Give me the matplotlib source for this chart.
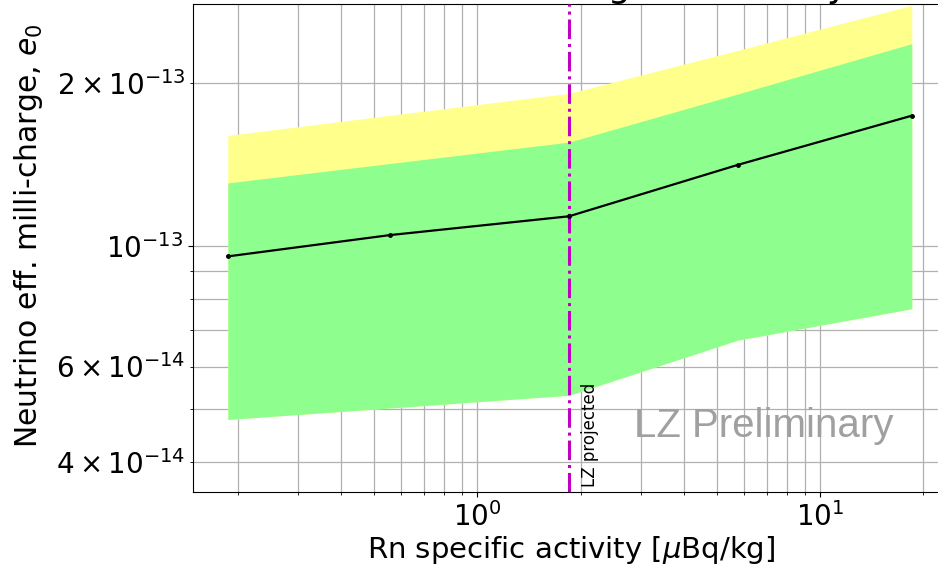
import numpy as np
import matplotlib
matplotlib.use("Agg")
import matplotlib.pyplot as plt

# Rn specific activity scan points [uBq/kg]
activity = [0.187, 0.557, 1.85, 5.74, 18.5]
# median expected limit and 1/2 sigma bands on effective milli-charge
median = [9.58e-14, 1.049e-13, 1.136e-13, 1.413e-13, 1.742e-13]
sigma1_lo = [4.79e-14, 5.03e-14, 5.31e-14, 6.71e-14, 7.67e-14]
sigma1_hi = [1.309e-13, 1.422e-13, 1.557e-13, 1.910e-13, 2.366e-13]
sigma2_hi = [1.602e-13, 1.745e-13, 1.915e-13, 2.299e-13, 2.784e-13]
lz_projected = 1.85

W, H = 938, 565
fig = plt.figure(figsize=(W / 100, H / 100), dpi=100)
ax = fig.add_axes([193 / W, (H - 492) / H, (950 - 193) / W, (492 - 4) / H])

ax.fill_between(activity, sigma1_lo, sigma2_hi, color="#ffff8c", lw=0, zorder=1)
ax.fill_between(activity, sigma1_lo, sigma1_hi, color="#8eff8e", lw=0, zorder=2)
ax.plot(activity, median, color="black", lw=1.6, marker="o", ms=2.5, zorder=4)
ax.axvline(lz_projected, color="#c000c0", ls="-.", lw=2.2, zorder=3)

ax.set_xscale("log")
ax.set_yscale("log")
ax.set_xlim(0.148, 10 ** ((950 - 477.7) / 342.6))
ax.set_ylim(3.52e-14, 2.80e-13)
ax.grid(True, which="both", color="#b0b0b0", lw=0.9, zorder=0)
ax.set_axisbelow(True)

ax.tick_params(axis="both", which="both", labelsize=20)
ax.set_xlabel(r"Rn specific activity [$\mu$Bq/kg]", fontsize=21, labelpad=2)
ax.set_ylabel(r"Neutrino eff. milli-charge, $e_0$", fontsize=21.5)
ax.yaxis.set_label_coords(-0.196, 0.525)

ax.text(lz_projected * 1.085, 3.60e-14, "LZ projected", rotation=90,
        fontsize=12, ha="left", va="bottom")
ax.text(0.583, 0.135, "LZ Preliminary", transform=ax.transAxes,
        fontsize=29, color="#a0a0a0", family="Liberation Sans", ha="left", va="center")

fig.text(561 / W, (H + 3.5) / H, "Neutrino milli-charge sensitivity",
         fontsize=26, ha="center", va="baseline")

fig.savefig("out.png", dpi=100)
